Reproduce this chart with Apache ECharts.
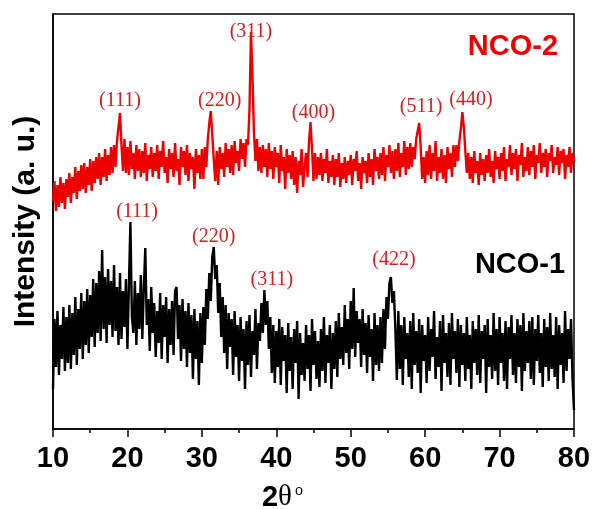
<!DOCTYPE html>
<html><head><meta charset="utf-8">
<script src="https://cdn.jsdelivr.net/npm/echarts@6/dist/echarts.min.js"></script>
<style>html,body{margin:0;padding:0;background:#fff}#c{width:593px;height:509px}</style>
</head><body><div id="c"></div>
<script>
// 2θ sampling of the scans (degrees)
const twoThetaStart = 10, twoThetaStep = 0.2;
const xTicks = [10, 20, 30, 40, 50, 60, 70, 80];
// NCO-2 intensity (a.u., offset trace)
const nco2 = [
228,248,218,244,222,252,226,246,220,250,
232,256,226,252,236,262,230,258,238,264,
240,266,236,262,244,270,238,268,246,272,
250,276,244,272,252,280,248,274,254,282,
256,284,262,288,286,316,284,258,290,256,
282,254,288,260,276,250,284,258,280,252,
278,256,286,248,274,260,282,252,276,258,
284,250,278,262,288,256,272,246,280,260,
276,252,286,258,270,244,282,262,278,254,
284,248,276,260,272,240,280,256,274,250,
280,250,282,262,290,306,318,294,270,248,
278,244,282,260,276,252,286,262,280,256,
284,254,288,266,278,258,290,270,286,262,
290,284,320,397,352,296,268,290,258,282,
256,284,262,280,252,286,260,278,250,282,
262,276,246,284,258,272,240,280,256,274,
250,278,244,272,236,268,254,280,242,262,
276,252,288,307,280,248,276,250,272,254,
276,248,270,256,280,246,268,252,274,244,
270,252,276,242,266,250,272,246,268,254,
274,244,270,258,278,248,266,240,272,256,
268,246,276,252,270,244,280,258,272,250,
276,254,282,248,274,262,284,256,278,250,
280,258,286,252,276,262,288,254,282,260,
286,262,282,270,290,298,306,282,250,272,
246,278,254,284,250,276,258,288,248,272,
256,280,250,274,246,282,260,276,252,284,
262,284,268,288,300,317,302,278,256,276,
250,272,246,278,256,268,244,276,254,270,
248,274,256,280,252,268,246,278,260,272,
250,276,258,282,248,270,262,284,254,276,
260,280,248,274,264,286,252,272,258,282,
254,278,262,284,250,274,266,286,256,276,
262,280,252,276,268,284,256,272,264,282,
254,278,266,280,250,274,262,282,256,276,
268];
// NCO-1 intensity (a.u.)
const nco1 = [
40,110,62,118,54,104,70,122,58,112,
66,124,60,116,74,132,64,120,80,136,
70,128,84,140,76,134,92,150,82,146,
96,158,88,179,100,152,86,160,104,148,
92,164,98,142,84,156,90,138,102,150,
80,144,207,112,96,148,84,136,100,154,
90,140,181,104,130,78,142,96,126,72,
118,86,136,70,124,92,132,66,120,84,
128,74,138,142,90,124,68,130,80,118,
62,126,76,114,50,120,70,108,44,116,
66,122,84,140,110,156,128,172,182,150,
164,116,146,92,132,76,124,60,116,82,
110,54,118,72,104,48,112,68,100,40,
108,64,114,52,98,74,120,60,106,88,
126,96,139,104,128,80,112,56,104,46,
98,62,110,44,102,68,94,36,106,58,
92,40,100,66,108,30,96,54,86,48,
104,60,94,38,110,64,98,50,88,42,
100,58,112,46,94,66,104,40,96,60,
108,52,116,70,102,64,124,76,110,60,
128,80,141,72,118,86,110,62,120,74,
106,56,114,72,100,48,116,64,104,58,
112,66,120,80,132,110,146,152,126,138,
100,49,118,60,104,44,112,70,96,52,
108,40,116,64,98,56,110,36,104,68,
94,46,112,58,100,72,118,50,92,62,
108,38,114,66,96,52,106,44,116,70,
98,56,110,42,104,64,96,48,112,60,
94,40,108,66,100,54,114,46,98,70,
104,36,110,62,94,50,116,58,100,44,
112,66,96,48,108,40,102,70,114,54,
96,46,110,62,104,38,116,58,98,66,
108,50,112,44,100,68,114,56,96,42,
110,62,102,48,116,60,94,52,112,40,
104,64,96,46,118,58,100,70,110,50,
19];
// peak indices
const nco2Peaks = ['(111)','(220)','(311)','(400)','(511)','(440)'];
const nco1Peaks = ['(111)','(220)','(311)','(422)'];

const toPairs = arr => arr.map((v, i) => [+(twoThetaStart + i * twoThetaStep).toFixed(2), v]);

// label anchor coordinates (layout, in axis units)
const nco2LabelAt = [[19.0,328],[32.4,328],[36.6,397],[45.0,316],[59.45,322],[66.15,329]];
const nco1LabelAt = [[21.3,217],[31.6,192],[39.4,149],[55.8,169]];

const serif = "'Liberation Serif','Times New Roman',serif";
const sans = "'Liberation Sans',Arial,sans-serif";
const labRed = '#d0201f';
const lineRed = '#ee0000';

function marks(names, at, extra) {
  const d = names.map((n, i) => ({coord: at[i], name: n,
    label: {formatter: n, fontFamily: serif, fontSize: 20, color: labRed}}));
  if (extra) d.push(extra);
  return {
    symbol: 'rect', symbolSize: [1, 1], silent: true,
    itemStyle: {color: 'transparent'},
    label: {show: true, position: 'inside'},
    data: d
  };
}

const chart = echarts.init(document.getElementById('c'), null, {renderer: 'canvas'});
chart.setOption({
  animation: false,
  backgroundColor: '#fff',
  grid: {left: 53, right: 19, top: 14, bottom: 80, containLabel: false, outerBoundsMode: 'none',
         show: true, borderColor: '#000', borderWidth: 1.5, backgroundColor: 'transparent'},
  xAxis: {
    type: 'value', min: xTicks[0], max: xTicks[xTicks.length - 1], interval: 10,
    axisLine: {lineStyle: {color: '#000', width: 1.5}},
    axisTick: {length: 8, lineStyle: {color: '#000', width: 1.5}},
    minorTick: {show: true, splitNumber: 2, length: 4, lineStyle: {color: '#000', width: 1.5}},
    splitLine: {show: false},
    axisLabel: {color: '#000', fontFamily: sans, fontWeight: 'bold', fontSize: 29, margin: 15},
    name: '{a|2}{b|θ}{c|o}', nameLocation: 'middle', nameGap: 54,
    nameTextStyle: {padding: [0, 62, 0, 0],
      rich: {a: {fontFamily: sans, fontWeight: 'bold', fontSize: 29, color: '#000'},
             b: {fontFamily: serif, fontSize: 29, color: '#000'},
             c: {fontFamily: serif, fontSize: 16, color: '#000', verticalAlign: 'top', padding: [0, 0, 0, 3]}}}
  },
  yAxis: {
    type: 'value', min: 0, max: 415,
    axisLine: {show: true, lineStyle: {color: '#000', width: 1.5}},
    axisTick: {show: false}, axisLabel: {show: false}, splitLine: {show: false},
    name: 'Intensity (a. u.)', nameLocation: 'middle', nameGap: 12, nameRotate: 90,
    nameTextStyle: {fontFamily: sans, fontWeight: 'bold', fontSize: 30, color: '#000'}
  },
  series: [
    {name: 'NCO-1', type: 'line', data: toPairs(nco1), showSymbol: false, sampling: 'none',
     lineStyle: {color: '#000', width: 2.4}, itemStyle: {color: '#000'},
     markPoint: marks(nco1Peaks, nco1LabelAt, {coord: [72.75, 164], label: {formatter: 'NCO-1', fontFamily: sans, fontWeight: 'bold', fontSize: 29, color: '#000'}})},
    {name: 'NCO-2', type: 'line', data: toPairs(nco2), showSymbol: false, sampling: 'none',
     lineStyle: {color: lineRed, width: 2.4}, itemStyle: {color: lineRed},
     markPoint: marks(nco2Peaks, nco2LabelAt, {coord: [71.8, 382], label: {formatter: 'NCO-2', fontFamily: sans, fontWeight: 'bold', fontSize: 29, color: lineRed}})}
  ]
});
</script></body></html>
